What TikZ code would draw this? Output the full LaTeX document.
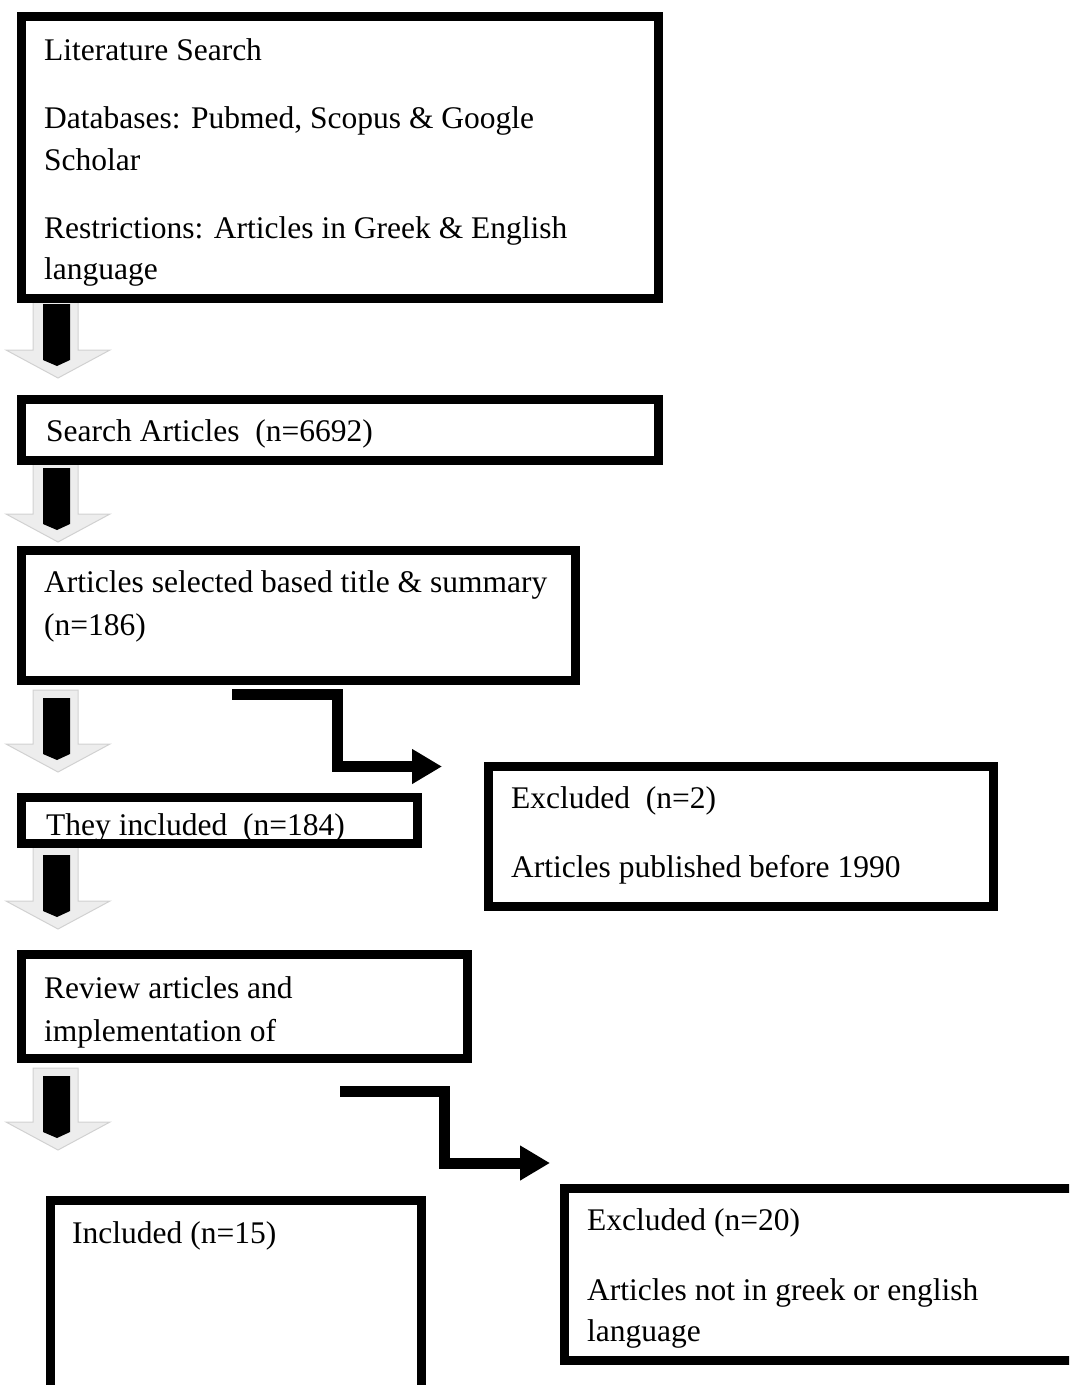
\documentclass[tikz,border=0pt]{standalone}
\usepackage{fontspec}
\setmainfont{Liberation Serif}
\usetikzlibrary{arrows.meta}
\tikzset{
  box/.style={draw=black,fill=white,line width=9pt},
  txt/.style={anchor=base west,inner sep=0pt},
  downshade/.style={fill=black!7,draw=black!18,line width=1pt},
  elbow/.style={line width=11pt,line join=miter,-{Triangle[length=30pt,width=33pt]}}
}
\begin{document}
\begin{tikzpicture}[x=1pt,y=-1pt,font=\fontsize{31.5}{43}\selectfont]
\useasboundingbox (0,0) rectangle (1069,1385);
\clip (0,0) rectangle (1069,1385);
\foreach \y in {296,460,690,847,1068}{
  \filldraw[downshade] (33,\y) -- (78,\y) -- (78,\y+54) -- (110,\y+54) -- (58,\y+82) -- (6,\y+54) -- (33,\y+54) -- cycle;
  \fill[black] (43,\y+8) -- (70,\y+8) -- (70,\y+64) -- (57,\y+70) -- (43,\y+64) -- cycle;
}
\draw[box] (21.5,16.5) rectangle (658,298);
\node[txt] (lit) at (44,60) {Literature Search};
\node[txt] (db1) at (44,128) {Databases: Pubmed, Scopus \& Google};
\node[txt] (db2) at (44,170) {Scholar};
\node[txt] (re1) at (44,238) {Restrictions: Articles in Greek \& English};
\node[txt] (re2) at (44,279) {language};
\draw[box] (21.5,399) rectangle (658,460.5);
\node[txt] (search) at (46,441) {Search Articles\ \ (n=6692)};
\draw[box] (21.5,550) rectangle (575,680);
\node[txt] (sel1) at (44,592) {Articles selected based title \& summary};
\node[txt] (sel2) at (44,635) {(n=186)};
\draw[box] (21.5,797) rectangle (417,843);
\begin{scope}
\clip (26,801) rectangle (413,838);
\node[txt] (incl) at (46,835) {They included\ \ (n=184)};
\end{scope}
\draw[box] (488.5,766.5) rectangle (993.5,906);
\node[txt] (ex1) at (511,808) {Excluded\ \ (n=2)};
\node[txt] (ex2) at (511,877) {Articles published before 1990};
\draw[box] (21.5,954.5) rectangle (467.5,1058);
\node[txt] (rev1) at (44,998) {Review articles and};
\node[txt] (rev2) at (44,1041) {implementation of};
\draw[box] (50,1200) rectangle (421.5,1395);
\node[txt] (fin) at (72,1243) {Included (n=15)};
\draw[box] (564.5,1188.5) rectangle (1080,1360.5);
\node[txt] (exb1) at (587,1230) {Excluded (n=20)};
\node[txt] (exb2) at (587,1300) {Articles not in greek or english};
\node[txt] (exb3) at (587,1341) {language};
\coordinate (e1s) at (232,694.5);
\coordinate (e1t) at (442,766.5);
\draw[elbow] (e1s) -- ++(105.5,0) |- (e1t);
\coordinate (e2s) at (340,1091.5);
\coordinate (e2t) at (550,1163);
\draw[elbow] (e2s) -- ++(104,0) |- (e2t);
\end{tikzpicture}
\end{document}
